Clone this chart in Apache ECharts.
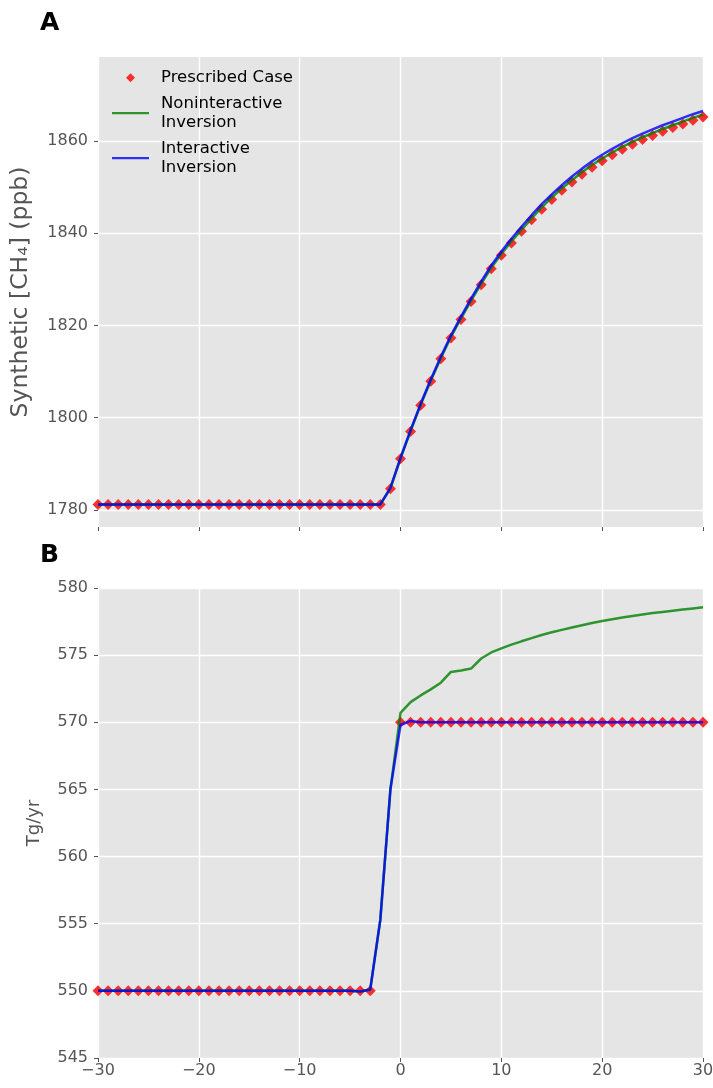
<!DOCTYPE html>
<html><head><meta charset="utf-8">
<script src="https://cdn.jsdelivr.net/npm/echarts@6/dist/echarts.min.js"></script>
<style>html,body{margin:0;padding:0;background:#fff}#c{width:713px;height:1088px}</style>
</head><body><div id="c"></div>
<script>
const years = [-30,-29,-28,-27,-26,-25,-24,-23,-22,-21,-20,-19,-18,-17,-16,-15,-14,-13,-12,-11,-10,-9,-8,-7,-6,-5,-4,-3,-2,-1,0,1,2,3,4,5,6,7,8,9,10,11,12,13,14,15,16,17,18,19,20,21,22,23,24,25,26,27,28,29,30];

// Panel A: concentration (ppb)
const concPrescribed = [1781.2,1781.2,1781.2,1781.2,1781.2,1781.2,1781.2,1781.2,1781.2,1781.2,1781.2,1781.2,1781.2,1781.2,1781.2,1781.2,1781.2,1781.2,1781.2,1781.2,1781.2,1781.2,1781.2,1781.2,1781.2,1781.2,1781.2,1781.2,1781.2,
  1784.6,1791.1,1797.0,1802.7,1807.9,1812.8,1817.3,1821.3,1825.2,1828.8,1832.3,1835.2,1837.9,1840.4,1842.9,1845.2,1847.3,1849.3,1851.1,1852.8,1854.3,1855.7,1857.0,1858.2,1859.3,1860.3,1861.2,1862.1,1862.9,1863.7,1864.5,1865.2];
const concNonInteractive = [1781.2,1781.2,1781.2,1781.2,1781.2,1781.2,1781.2,1781.2,1781.2,1781.2,1781.2,1781.2,1781.2,1781.2,1781.2,1781.2,1781.2,1781.2,1781.2,1781.2,1781.2,1781.2,1781.2,1781.2,1781.2,1781.2,1781.2,1781.2,1781.2,
  1784.7,1791.2,1797.1,1802.8,1808.0,1812.9,1817.5,1821.5,1825.4,1829.0,1832.5,1835.5,1838.2,1840.7,1843.2,1845.6,1847.7,1849.7,1851.5,1853.2,1854.8,1856.2,1857.5,1858.7,1859.8,1860.8,1861.7,1862.6,1863.4,1864.2,1865.0,1865.7];
const concInteractive = [1781.2,1781.2,1781.2,1781.2,1781.2,1781.2,1781.2,1781.2,1781.2,1781.2,1781.2,1781.2,1781.2,1781.2,1781.2,1781.2,1781.2,1781.2,1781.2,1781.2,1781.2,1781.2,1781.2,1781.2,1781.2,1781.2,1781.2,1781.2,1781.2,
  1784.8,1791.3,1797.3,1803.0,1808.3,1813.2,1817.8,1821.9,1825.8,1829.5,1833.0,1836.0,1838.8,1841.4,1843.9,1846.3,1848.4,1850.4,1852.3,1854.0,1855.6,1857.0,1858.3,1859.5,1860.6,1861.6,1862.5,1863.4,1864.2,1865.0,1865.8,1866.5];

// Panel B: emissions (Tg/yr)
const emisPrescribed = [550,550,550,550,550,550,550,550,550,550,550,550,550,550,550,550,550,550,550,550,550,550,550,550,550,550,550,550,
  null,null,
  570,570,570,570,570,570,570,570,570,570,570,570,570,570,570,570,570,570,570,570,570,570,570,570,570,570,570,570,570,570,570];
const emisNonInteractive = [550,550,550,550,550,550,550,550,550,550,550,550,550,550,550,550,550,550,550,550,550,550,550,550,550,550,549.95,550.1,555.3,565.0,
  570.7,571.5,572.0,572.45,572.95,573.75,573.85,574.0,574.75,575.2,575.5,575.78,576.03,576.27,576.5,576.7,576.88,577.06,577.23,577.4,577.55,577.68,577.8,577.92,578.03,578.13,578.22,578.31,578.4,578.48,578.56];
const emisInteractive = [550,550,550,550,550,550,550,550,550,550,550,550,550,550,550,550,550,550,550,550,550,550,550,550,550,550,549.95,550.1,555.3,565.0,
  569.8,570.1,570.0,570.0,570.0,570.0,570.0,570.0,570.0,570.0,570.0,570.0,570.0,570.0,570.0,570.0,570.0,570.0,570.0,570.0,570.0,570.0,570.0,570.0,570.0,570.0,570.0,570.0,570.0,570.0,570.0];

const xTicks = [-30,-20,-10,0,10,20,30];
const concTicks = [1780,1800,1820,1840,1860];
const emisTicks = [545,550,555,560,565,570,575,580];

const names = ['Prescribed Case','Noninteractive\nInversion','Interactive\nInversion'];
const pairs = (ys) => years.map((x,i) => [x, ys[i]]);

const tickColor = '#555555';
const FONT = 'DejaVu Sans';
const RED = '#fa2e2e', GREEN = 'rgba(0,128,0,0.8)', BLUE = 'rgba(0,0,255,0.8)';
const lineIcon = 'path://M0,0 M0,4 L37,4 L37,6.2 L0,6.2 Z M37,10';

const xAxisBase = (idx, showLabels) => ({
  type: 'value', gridIndex: idx, min: -30, max: 30, interval: 10,
  axisLine: {show: false, onZero: false},
  axisTick: {show: true, length: 4, lineStyle: {color: tickColor, width: 1}},
  axisLabel: {show: showLabels, color: tickColor, fontSize: 16, fontFamily: FONT, margin: 5,
    formatter: v => (v < 0 ? '\u2212' + Math.abs(v) : '' + v)},
  splitLine: {show: true, lineStyle: {color: '#ffffff', width: 1.4}}
});

const chart = echarts.init(document.getElementById('c'), null, {renderer: 'canvas'});
chart.setOption({
  animation: false,
  backgroundColor: '#ffffff',
  title: [
    {text: 'A', left: 35, top: 6, textStyle: {fontSize: 25, fontWeight: 'bold', color: '#000', fontFamily: FONT}},
    {text: 'B', left: 35, top: 538, textStyle: {fontSize: 25, fontWeight: 'bold', color: '#000', fontFamily: FONT}}
  ],
  legend: {
    orient: 'vertical', left: 112, top: 68, padding: 0, itemGap: 6,
    itemWidth: 37, itemHeight: 10,
    data: [
      {name: names[0], icon: 'path://M0,0 M14,5 L18.5,0.5 L23,5 L18.5,9.5 Z M37,10', itemStyle: {color: RED, opacity: 1}},
      {name: names[1], icon: lineIcon, itemStyle: {color: GREEN}},
      {name: names[2], icon: lineIcon, itemStyle: {color: BLUE}}
    ],
    textStyle: {fontSize: 16.5, lineHeight: 19.5, color: '#000', fontFamily: FONT, padding: [0,0,0,7]}
  },
  grid: [
    {left: 98, right: 10, top: 57, height: 470, backgroundColor: '#E5E5E5', show: true, borderWidth: 0, containLabel: false, outerBoundsMode: 'none'},
    {left: 98, right: 10, top: 588, height: 470, backgroundColor: '#E5E5E5', show: true, borderWidth: 0, containLabel: false, outerBoundsMode: 'none'}
  ],
  xAxis: [xAxisBase(0, false), xAxisBase(1, true)],
  yAxis: [
    {type: 'value', gridIndex: 0, min: 1776.3, max: 1878.2,
     name: 'Synthetic [CH\u2084] (ppb)', nameLocation: 'middle', nameGap: 65,
     nameTextStyle: {fontSize: 23.5, color: tickColor, fontFamily: FONT},
     axisLine: {show: false, onZero: false},
     axisTick: {show: true, length: 4, lineStyle: {color: tickColor}, customValues: concTicks},
     axisLabel: {color: tickColor, fontSize: 16, fontFamily: FONT, margin: 10, customValues: concTicks, formatter: v => String(v)},
     splitLine: {show: true, lineStyle: {color: '#ffffff', width: 1.4}}},
    {type: 'value', gridIndex: 1, min: 545, max: 580, interval: 5,
     name: 'Tg/yr', nameLocation: 'middle', nameGap: 55,
     nameTextStyle: {fontSize: 18, color: tickColor, fontFamily: FONT},
     axisLine: {show: false, onZero: false},
     axisTick: {show: true, length: 4, lineStyle: {color: tickColor}},
     axisLabel: {color: tickColor, fontSize: 16, fontFamily: FONT, margin: 10, formatter: v => String(v)},
     splitLine: {show: true, lineStyle: {color: '#ffffff', width: 1.4}}}
  ],
  series: [
    {name: names[0], type: 'scatter', xAxisIndex: 0, yAxisIndex: 0, data: pairs(concPrescribed),
     symbol: 'diamond', symbolSize: 11, itemStyle: {color: RED, opacity: 1}},
    {name: names[1], type: 'line', xAxisIndex: 0, yAxisIndex: 0, data: pairs(concNonInteractive),
     symbol: 'none', lineStyle: {color: GREEN, width: 2.5}, itemStyle: {color: GREEN}},
    {name: names[2], type: 'line', xAxisIndex: 0, yAxisIndex: 0, data: pairs(concInteractive),
     symbol: 'none', lineStyle: {color: BLUE, width: 2.5}, itemStyle: {color: BLUE}},
    {name: names[0], type: 'scatter', xAxisIndex: 1, yAxisIndex: 1, data: pairs(emisPrescribed).filter(p => p[1] !== null),
     symbol: 'diamond', symbolSize: 11, itemStyle: {color: RED, opacity: 1}},
    {name: names[1], type: 'line', xAxisIndex: 1, yAxisIndex: 1, data: pairs(emisNonInteractive),
     symbol: 'none', lineStyle: {color: GREEN, width: 2.5}, itemStyle: {color: GREEN}},
    {name: names[2], type: 'line', xAxisIndex: 1, yAxisIndex: 1, data: pairs(emisInteractive),
     symbol: 'none', lineStyle: {color: BLUE, width: 2.5}, itemStyle: {color: BLUE}}
  ]
});
</script>
</body></html>
